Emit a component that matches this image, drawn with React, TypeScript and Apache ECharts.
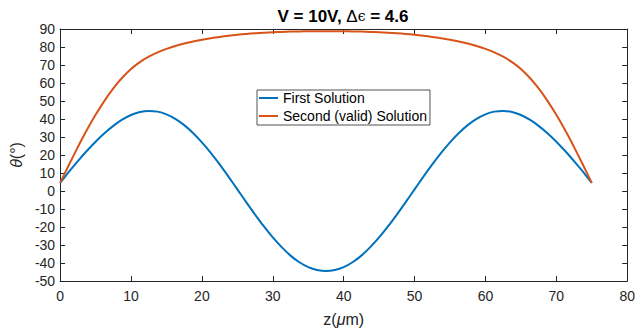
import React, { useEffect, useRef } from "react";
import * as echarts from "echarts";

const zValues = [
  0, 1.25, 2.5, 3.75, 5, 6.25, 7.5, 8.75, 10, 11.25, 12.5, 13.75, 15, 16.25, 17.5, 18.75, 20, 21.25, 22.5, 23.75,
  25, 26.25, 27.5, 28.75, 30, 31.25, 32.5, 33.75, 35, 36.25, 37.5, 38.75, 40, 41.25, 42.5, 43.75, 45, 46.25, 47.5, 48.75,
  50, 51.25, 52.5, 53.75, 55, 56.25, 57.5, 58.75, 60, 61.25, 62.5, 63.75, 65, 66.25, 67.5, 68.75, 70, 71.25, 72.5, 73.75, 75,
];
const firstSolution = [
  4.5, 10.7, 16.6, 22.2, 27.4, 32.1, 36.2, 39.6, 42.2, 43.9, 44.5, 44.1, 42.6, 40.1, 36.6, 32.2, 27, 21.2, 14.8, 8,
  0.9, -6.2, -13.1, -19.7, -25.8, -31.2, -35.9, -39.6, -42.3, -43.9, -44.5, -43.9, -42.3, -39.6, -35.9, -31.2, -25.8, -19.7, -13.1, -6.2,
  0.9, 8, 14.8, 21.2, 27, 32.2, 36.6, 40.1, 42.6, 44.1, 44.5, 43.9, 42.2, 39.6, 36.2, 32.1, 27.4, 22.2, 16.6, 10.7, 4.5,
];
const secondSolution = [
  4.5, 14.6, 24.4, 33.7, 42.3, 50.1, 57, 62.9, 67.8, 71.6, 74.6, 77, 78.95, 80.55, 81.9, 83.05, 84, 84.85, 85.6, 86.25,
  86.8, 87.26, 87.64, 87.95, 88.2, 88.4, 88.55, 88.65, 88.72, 88.76, 88.78, 88.76, 88.72, 88.65, 88.55, 88.4, 88.2, 87.95, 87.64, 87.26,
  86.8, 86.25, 85.6, 84.85, 84, 83.05, 81.9, 80.55, 78.95, 77, 74.6, 71.6, 67.8, 62.9, 57, 50.1, 42.3, 33.7, 24.4, 14.6, 4.5,
];
const seriesNames = ["First Solution", "Second (valid) Solution"];
const xMin = 0, xMax = 80, xStep = 10;
const yMin = -50, yMax = 90, yStep = 10;

const FONT = "'Liberation Sans', Arial, Helvetica, sans-serif";
const AX = "#262626";

export default function App() {
  const ref = useRef<HTMLDivElement>(null);
  useEffect(() => {
    if (!ref.current) return;
    const chart = echarts.init(ref.current, undefined, { renderer: "svg" });
    const tickStyle = { show: true, inside: true, length: 5, lineStyle: { color: AX, width: 1 } };
    const lineStyleAx = { show: true, onZero: false, lineStyle: { color: AX, width: 1 } };
    const baseX = { type: "value", min: xMin, max: xMax, interval: xStep, splitLine: { show: false }, axisLine: lineStyleAx, axisTick: tickStyle };
    const baseY = { type: "value", min: yMin, max: yMax, interval: yStep, splitLine: { show: false }, axisLine: lineStyleAx, axisTick: tickStyle };
    chart.setOption({
      animation: false,
      backgroundColor: "#ffffff",
      grid: { left: 58, right: 10, top: 29, bottom: 51, containLabel: false },
      xAxis: [
        {
          ...baseX,
          position: "bottom",
          axisLabel: { color: AX, fontSize: 14, fontFamily: FONT, margin: 8 },
          name: "z({i|μ}m)",
          nameLocation: "middle",
          nameGap: 30,
          nameTextStyle: {
            color: AX, fontSize: 16, fontFamily: FONT,
            rich: { i: { fontStyle: "italic", fontSize: 16, fontFamily: FONT, color: AX } },
          },
        },
        { ...baseX, position: "top", axisLabel: { show: false } },
      ],
      yAxis: [
        {
          ...baseY,
          position: "left",
          axisLabel: { color: AX, fontSize: 14, fontFamily: FONT, margin: 5 },
          name: "{i|θ}(°)",
          nameLocation: "middle",
          nameGap: 34,
          nameRotate: 90,
          nameTextStyle: {
            color: AX, fontSize: 16, fontFamily: FONT,
            rich: { i: { fontStyle: "italic", fontSize: 16, fontFamily: FONT, color: AX } },
          },
        },
        { ...baseY, position: "right", axisLabel: { show: false } },
      ],
      legend: {
        orient: "vertical",
        left: 257,
        top: 90,
        padding: [0, 3, 1, 2],
        itemGap: 2,
        itemWidth: 19,
        itemHeight: 2,
        icon: "rect",
        backgroundColor: "#ffffff",
        borderColor: AX,
        borderWidth: 0.8,
        textStyle: { color: "#000000", fontSize: 14, fontFamily: FONT, lineHeight: 16 },
        data: seriesNames,
      },
      graphic: [
        {
          type: "text",
          x: 343,
          y: 16,
          style: {
            text: "{b|V = 10V, }{n|Δ}{e|ϵ}{b| = 4.6}",
            align: "center",
            verticalAlign: "middle",
            rich: {
              b: { fontWeight: "bold", fontSize: 17, fontFamily: FONT, fill: "#000" },
              n: { fontSize: 17, fontFamily: FONT, fill: "#000" },
              e: { fontSize: 14, fontFamily: "'DejaVu Serif', serif", fill: "#000" },
            },
          },
        },
      ],
      series: [
        {
          name: seriesNames[0],
          type: "line",
          showSymbol: false,
          smooth: 0.2,
          color: "#0072BD",
          lineStyle: { width: 2, color: "#0072BD" },
          data: zValues.map((z, i) => [z, firstSolution[i]]),
        },
        {
          name: seriesNames[1],
          type: "line",
          showSymbol: false,
          smooth: 0.2,
          color: "#D95319",
          lineStyle: { width: 2, color: "#D95319" },
          data: zValues.map((z, i) => [z, secondSolution[i]]),
        },
      ],
    });
    return () => chart.dispose();
  }, []);
  return <div ref={ref} style={{ position: "fixed", left: 0, top: 0, width: 638, height: 332 }} />;
}
